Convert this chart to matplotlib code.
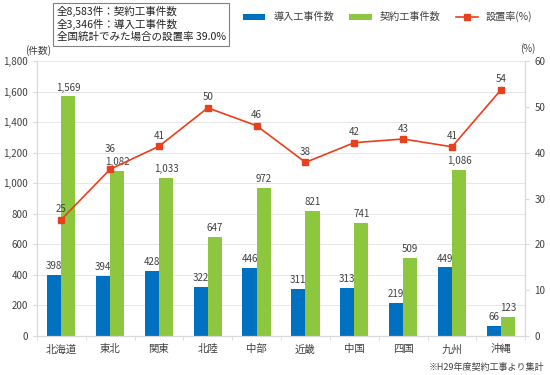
import matplotlib
matplotlib.use("Agg")
import matplotlib.pyplot as plt
import numpy as np

plt.rcParams['font.family'] = ['Noto Sans CJK JP', 'DejaVu Sans']

categories = ['北海道', '東北', '関東', '北陸', '中部', '近畿', '中国', '四国', '九州', '沖縄']
installed = [398, 394, 428, 322, 446, 311, 313, 219, 449, 66]
contracted = [1569, 1082, 1033, 647, 972, 821, 741, 509, 1086, 123]
rate = [25.4, 36.4, 41.4, 49.8, 45.9, 37.9, 42.2, 43.0, 41.3, 53.7]
rate_labels = [25, 36, 41, 50, 46, 38, 42, 43, 41, 54]
rate_label_pad = [1.2, 3.3, 1.2, 1.2, 1.2, 1.2, 1.2, 1.2, 1.2, 1.2]

blue = '#0070C0'
green = '#8DC63F'
red = '#E8401C'
tc = '#404040'

fig = plt.figure(figsize=(5.5, 3.75), dpi=100)
ax = fig.add_axes([0.067, 0.104, 0.888, 0.733])
ax2 = ax.twinx()

x = np.arange(len(categories))
w = 0.29
b1 = ax.bar(x - w/2, installed, w, color=blue, label='導入工事件数', zorder=2)
b2 = ax.bar(x + w/2, contracted, w, color=green, label='契約工事件数', zorder=2)
for xi, v in zip(x, installed):
    ax.text(xi - w/2, v + 25, f'{v:,}', ha='center', va='bottom', fontsize=7, color=tc)
for xi, v in zip(x, contracted):
    ax.text(xi + w/2, v + 25, f'{v:,}', ha='center', va='bottom', fontsize=7, color=tc)

ax.set_ylim(0, 1800)
ax.set_yticks(range(0, 1801, 200))
ax.set_yticklabels([f'{v:,}' for v in range(0, 1801, 200)], fontsize=7, color=tc)
ax.set_xlim(-0.5, 9.5)
ax.set_xticks(x)
ax.set_xticklabels(categories, fontsize=7.5, color=tc)
ax.set_xticks(np.arange(-0.5, 10.0, 1.0), minor=True)
ax.grid(axis='y', color='#E6E6E6', linewidth=0.7, zorder=0)
ax.set_axisbelow(True)
for s in ['top']:
    ax.spines[s].set_visible(False)
    ax2.spines[s].set_visible(False)
for s in ['left', 'bottom', 'right']:
    ax.spines[s].set_color('#D9D9D9')
    ax2.spines[s].set_color('#D9D9D9')
ax.tick_params(axis='both', length=3, color='#D9D9D9')
ax.tick_params(axis='x', which='major', length=0, pad=6)
ax.tick_params(axis='x', which='minor', length=3, color='#D9D9D9')

ln, = ax2.plot(x, rate, color=red, marker='s', markersize=4, linewidth=1.2, label='設置率(%)', zorder=3)
for xi, v, l, p in zip(x, rate, rate_labels, rate_label_pad):
    ax2.text(xi, v + p, str(l), ha='center', va='bottom', fontsize=7, color=tc)
ax2.set_ylim(0, 60)
ax2.set_yticks(range(0, 61, 10))
ax2.tick_params(axis='y', labelsize=7, labelcolor=tc, length=3, color='#D9D9D9')

fig.text(0.045, 0.855, '(件数)', fontsize=7, color=tc, ha='left')
fig.text(0.945, 0.862, '(%)', fontsize=7, color=tc, ha='left')

fig.text(0.103, 0.888,
         '全8,583件：契約工事件数\n全3,346件：導入工事件数\n全国統計でみた場合の設置率 39.0%',
         fontsize=7.6, color='#222222', va='bottom', linespacing=1.2,
         bbox=dict(boxstyle='square,pad=0.35', facecolor='white', edgecolor='#808080', linewidth=0.8))

fig.legend(handles=[b1, b2, ln], loc='center', bbox_to_anchor=(0.705, 0.955), ncol=3,
           frameon=False, fontsize=7.3, handlelength=2.2, handleheight=0.5, columnspacing=1.5,
           labelcolor=tc)

fig.text(0.99, 0.015, '※H29年度契約工事より集計', fontsize=6.5, color=tc, ha='right')

fig.savefig('out.png', dpi=100)
